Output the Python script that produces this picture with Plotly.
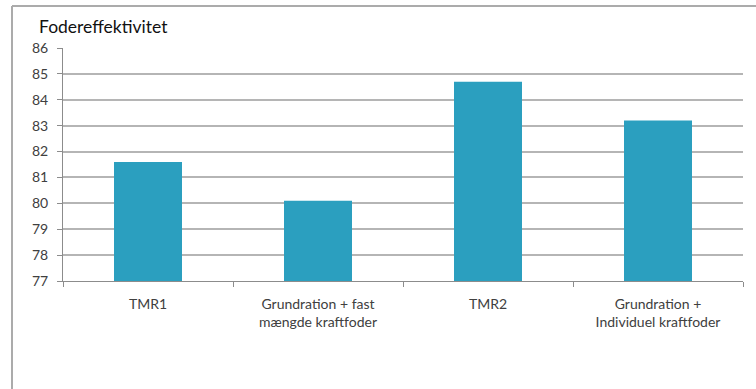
import plotly.graph_objects as go

# Feed efficiency per feeding strategy
categories = ["TMR1", "Grundration + fast<br>mængde kraftfoder", "TMR2", "Grundration +<br>Individuel kraftfoder"]
values = [81.6, 80.1, 84.7, 83.2]
y_ticks = [77, 78, 79, 80, 81, 82, 83, 84, 85, 86]
title_text = "Fodereffektivitet"

BAR_COLOR = "#2B9FBF"
GRID_COLOR = "#B5B5B5"
TEXT_COLOR = "#404040"
FONT = "Lato"

fig = go.Figure(
    go.Bar(
        x=categories,
        y=values,
        marker=dict(color=BAR_COLOR, line=dict(width=0)),
        hoverinfo="skip",
    )
)

fig.update_layout(
    width=756,
    height=389,
    margin=dict(l=63, r=13, t=48, b=108),
    paper_bgcolor="white",
    plot_bgcolor="white",
    bargap=0.6,
    showlegend=False,
    font=dict(family=FONT, size=14, color=TEXT_COLOR),
    annotations=[
        dict(
            text=title_text,
            xref="paper", yref="paper",
            x=-0.038, y=1.0, yshift=22,
            xanchor="left", yanchor="middle",
            showarrow=False,
            font=dict(family=FONT, size=17.5, color="#111111"),
        )
    ],
    shapes=[
        # chart frame (top and left edges)
        dict(type="line", xref="paper", yref="paper",
             x0=-0.075, x1=1.05, y0=1.18, y1=1.18,
             line=dict(color="#ABABAB", width=2)),
        dict(type="line", xref="paper", yref="paper",
             x0=-0.075, x1=-0.075, y0=1.18, y1=-0.5,
             line=dict(color="#ABABAB", width=2)),
    ],
)

fig.update_xaxes(
    showgrid=False,
    showline=True,
    linecolor="#8C8C8C",
    linewidth=1,
    ticks="outside",
    tickson="boundaries",
    ticklen=5,
    tickcolor="#8C8C8C",
    ticklabelstandoff=10,
    tickfont=dict(family=FONT, size=14, color=TEXT_COLOR),
)

fig.update_yaxes(
    range=[77, 86],
    tickvals=y_ticks,
    showgrid=True,
    gridcolor=GRID_COLOR,
    gridwidth=1.5,
    showline=True,
    linecolor="#8C8C8C",
    linewidth=1,
    ticks="outside",
    ticklen=5,
    tickcolor="#8C8C8C",
    ticklabelstandoff=6,
    tickfont=dict(family=FONT, size=14, color=TEXT_COLOR),
    zeroline=False,
)

fig.write_html("out.html")
